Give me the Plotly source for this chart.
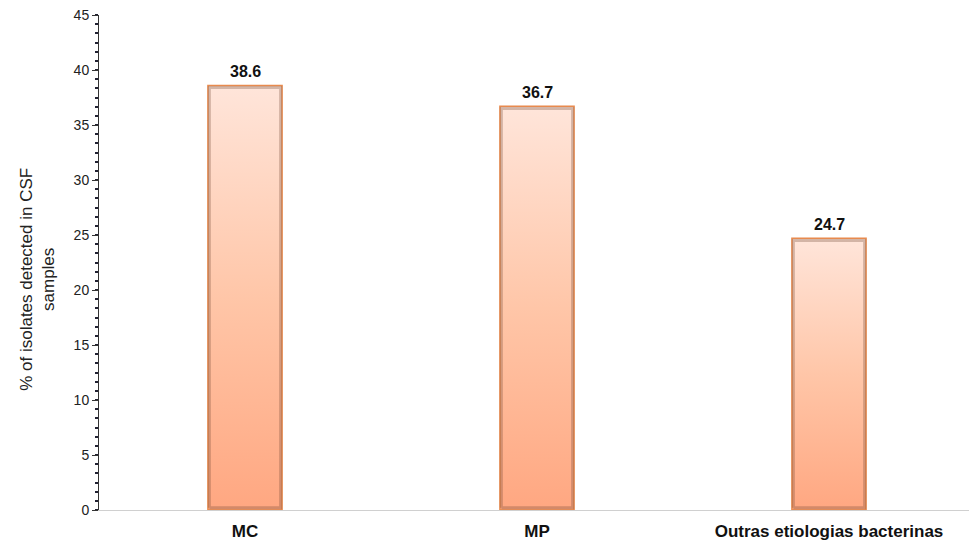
import plotly.graph_objects as go

categories = ["MC", "MP", "Outras etiologias bacterinas"]
values = [38.6, 36.7, 24.7]
y_ticks = [0, 5, 10, 15, 20, 25, 30, 35, 40, 45]
y_title = "% of isolates detected in CSF<br>samples"

half = 0.127
fig = go.Figure()
for i, v in enumerate(values):
    xs = [i - half, i + half, i + half, i - half, i - half]
    ys = [0, 0, v, v, 0]
    fig.add_trace(go.Scatter(
        x=xs, y=ys, mode="lines", fill="toself",
        fillgradient=dict(type="vertical",
                          colorscale=[[0, "#FFA781"], [0.5, "#FFC6A8"], [1, "#FFE5DA"]]),
        line=dict(color="#E88A4E", width=1.5),
        hoverinfo="skip", showlegend=False))
    # inner shadow
    d = 0.005
    fig.add_trace(go.Scatter(
        x=[i - half + d, i + half - d, i + half - d, i - half + d, i - half + d],
        y=[0.2, 0.2, v - 0.2, v - 0.2, 0.2], mode="lines",
        line=dict(color="rgba(110,70,50,0.3)", width=3),
        hoverinfo="skip", showlegend=False))
    fig.add_annotation(x=i, y=v, text=f"<b>{v:.1f}</b>", showarrow=False,
                       yanchor="bottom", yshift=3,
                       font=dict(family="Liberation Sans, Arial", size=16, color="#111"))

fig.add_annotation(xref="paper", yref="paper", x=0, y=0.465, xshift=-61,
                   xanchor="center", yanchor="middle",
                   text=y_title, textangle=-90, showarrow=False,
                   font=dict(family="Liberation Sans, Arial", size=17, color="#222"))

fig.update_layout(
    width=977, height=542,
    margin=dict(l=91, r=10, t=7, b=40, autoexpand=False),
    plot_bgcolor="white", paper_bgcolor="white",
    font=dict(family="Liberation Sans, Arial", size=14, color="#222"),
    xaxis=dict(range=[-0.5, 2.5], tickmode="array",
               tickvals=list(range(len(categories))), ticktext=[f"<b>{c}</b>" for c in categories],
               showgrid=False, zeroline=False, showline=True, linecolor="#d0d0d0", linewidth=1,
               ticks="", ticklabelstandoff=6, tickfont=dict(size=17, color="#111")),
    yaxis=dict(range=[0, 45], tickmode="array", tickvals=y_ticks,
               showgrid=False, zeroline=False, showline=True, linecolor="#333", linewidth=1,
               ticks="outside", ticklen=6, tickcolor="#333", ticklabeloverflow="allow",
               minor=dict(tick0=0, dtick=5/6, ticks="outside", ticklen=3, tickcolor="#223", tickwidth=1.5),
               tickfont=dict(size=14, color="#222")),
)
fig.write_html("out.html")
